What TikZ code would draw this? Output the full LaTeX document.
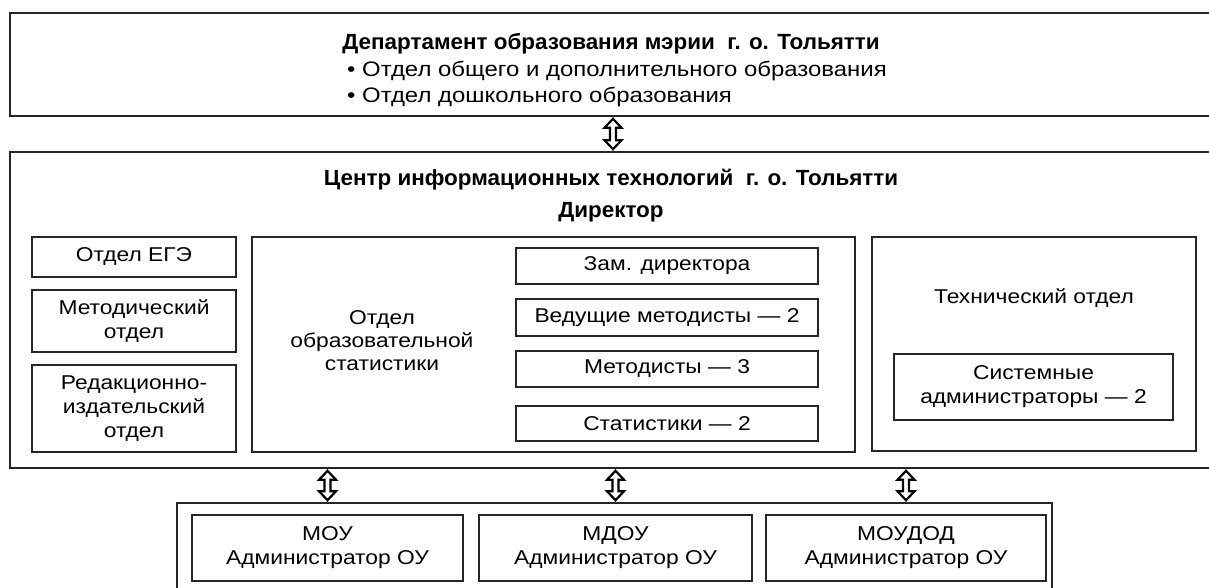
\documentclass[tikz,border=0pt]{standalone}
\usepackage{fontspec}
\setmainfont[FakeStretch=1.14]{Liberation Sans}
\newfontfamily\hdfont[FakeStretch=1.02]{Liberation Sans}
\usetikzlibrary{calc}
\begin{document}
\begin{tikzpicture}[x=1pt,y=-1pt,
box/.style={%
draw=black!85,
line width=1.3pt,
inner sep=0pt,
align=center,
font={\fontsize{20pt}{24}\selectfont},
},
outer/.style={%
box,
line width=1.6pt,
},
title/.style={%
font={\hdfont\bfseries\fontsize{22pt}{26}\selectfont},
inner sep=0pt,
},
txt/.style={%
font={\fontsize{20pt}{26}\selectfont},
align=center,
inner sep=0pt,
},
updown/.style={%
draw=black,
fill=white,
line width=2.2pt,
line join=miter,
to path={let \p1=(\tikztostart), \p2=(\tikztotarget) in
(\x1,\y1-2pt) -- (\x1+8.5pt,\y1-11pt) -- (\x1+3pt,\y1-11pt) -- (\x1+3pt,\y2+11pt)
-- (\x1+8.5pt,\y2+11pt) -- (\x1,\y2+2pt) -- (\x1-8.5pt,\y2+11pt) -- (\x1-3pt,\y2+11pt)
-- (\x1-3pt,\y1-11pt) -- (\x1-8.5pt,\y1-11pt) -- cycle},
}
]
\clip(0,0)rectangle(1209,587);
\fill[white](0,0)rectangle(1209,587);

%Departament
\node[outer,minimum width=1206,minimum height=103](dep)at(613,64.5){};
\node[title](depname)at(611,44){Департамент образования мэрии \ г. о. Тольятти};
\node[txt,anchor=west,font={\fontsize{21pt}{26}\selectfont}](dep1)at(347,71){• Отдел общего и дополнительного образования};
\node[txt,anchor=west,font={\fontsize{21pt}{26}\selectfont}](dep2)at(347,97){• Отдел дошкольного образования};

%CIT
\node[outer,minimum width=1206,minimum height=316](cit)at(613,310){};
\node[title](citname)at(611,180){Центр информационных технологий \ г. о. Тольятти};
\node[title](dir)at(611,212){Директор};

%left column
\node[box,minimum width=204,minimum height=40](ege)at(134,257){Отдел ЕГЭ};
\node[box,minimum width=204,minimum height=62](metod)at(134,321){Методический\\отдел};
\node[box,minimum width=204,minimum height=87](red)at(134,408.5){Редакционно-\\издательский\\отдел};

%statistics
\node[box,minimum width=603,minimum height=215](stat)at(553.5,344.5){};
\node[txt,font={\fontsize{20pt}{23}\selectfont}](statname)at(382,341){Отдел\\образовательной\\статистики};
\node[box,minimum width=302,minimum height=36](zam)at(667,266){Зам. директора};
\node[box,minimum width=302,minimum height=37](ved)at(667,317.5){Ведущие методисты — 2};
\node[box,minimum width=302,minimum height=36](met)at(667,369){Методисты — 3};
\node[box,minimum width=302,minimum height=35](stt)at(667,423.5){Статистики — 2};

%tech
\node[box,minimum width=324,minimum height=214](tech)at(1034,344){};
\node[txt](techname)at(1034,298){Технический отдел};
\node[box,minimum width=279,minimum height=66](sys)at(1033.5,387){Системные\\администраторы — 2};

%schools
\node[outer,minimum width=875,minimum height=120](ou)at(614.5,563){};
\node[box,minimum width=271,minimum height=66](mou)at(327.5,548){МОУ\\Администратор ОУ};
\node[box,minimum width=273,minimum height=66](mdou)at(615.5,548){МДОУ\\Администратор ОУ};
\node[box,minimum width=280,minimum height=66](moudod)at(906,548){МОУДОД\\Администратор ОУ};

%arrows
\draw[updown](dep.south)to(cit.north);
\draw[updown](cit.south -| mou.north)to(ou.north -| mou.north);
\draw[updown](cit.south -| mdou.north)to(ou.north -| mdou.north);
\draw[updown](cit.south -| moudod.north)to(ou.north -| moudod.north);
\end{tikzpicture}
\end{document}
